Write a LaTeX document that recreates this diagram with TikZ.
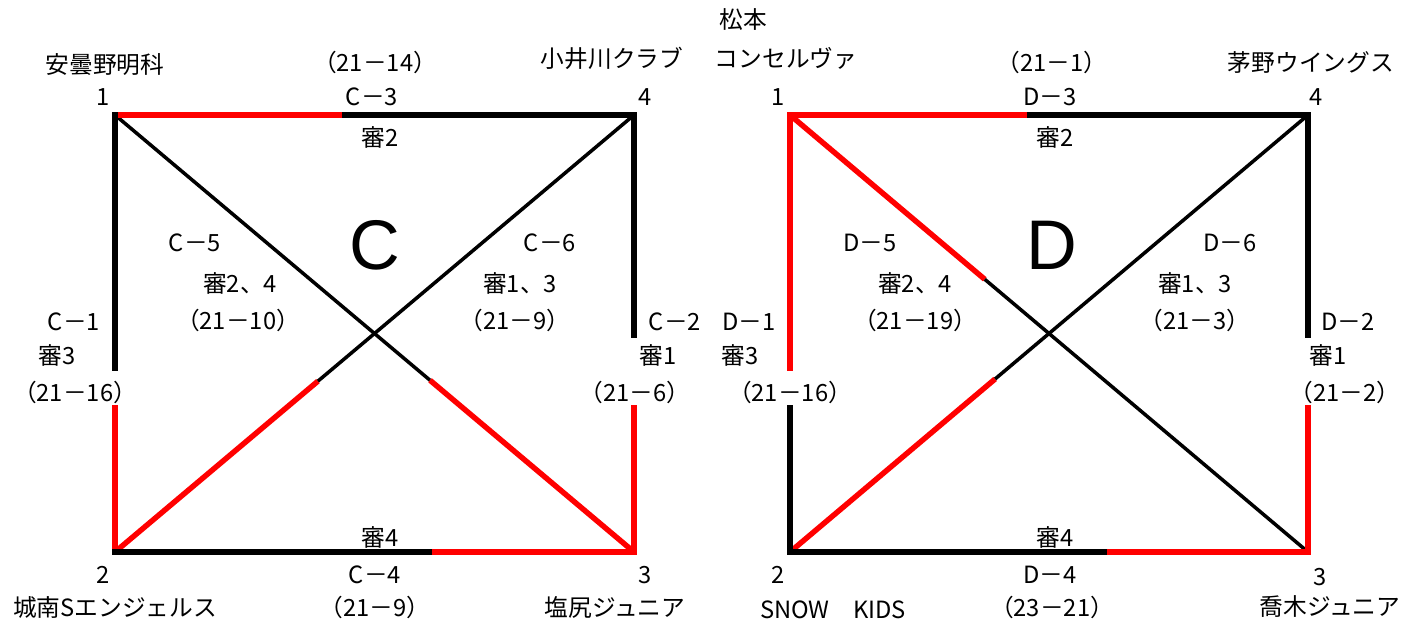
\documentclass[tikz,border=0pt]{standalone}
\usepackage{fontspec}
\setmainfont{Noto Sans CJK JP}
\newfontfamily\poolfont{Liberation Sans}
\usetikzlibrary{calc}
\definecolor{lostRed}{HTML}{FF0000}

\begin{document}
\begin{tikzpicture}[
  x=0.02cm,y=-0.02cm,
  font=\fontsize{13.5}{16}\selectfont,
  side/.style={line width=3.7pt,line cap=rect},
  cross/.style={line width=2pt},
  lost/.style={draw=lostRed},
  lostcross/.style={line width=3.1pt,draw=lostRed},
  tag/.style={inner sep=0pt,anchor=center},
  pool/.style={inner sep=0pt,anchor=center,font=\poolfont\fontsize{40}{44}\selectfont}
]
  \useasboundingbox (0,0) rectangle (1407,623);

  % block C
  \coordinate (c1) at (115,115);
  \coordinate (c4) at (634,115);
  \coordinate (c2) at (115,552);
  \coordinate (c3) at (634,552);
  \coordinate (c-top) at (345,115);
  \coordinate (c-bot) at (435,552);
  \coordinate (c-lu) at (115,368);
  \coordinate (c-ll) at (115,408);
  \coordinate (c-ru) at (634,335);
  \coordinate (c-rl) at (634,408);
  \coordinate (c-d13) at ($(c1)!0.607!(c3)$);
  \coordinate (c-d24) at ($(c2)!0.391!(c4)$);

  \draw[cross] (c1) -- (c-d13);
  \draw[lostcross] (c-d13) -- (c3);
  \draw[lostcross] (c2) -- (c-d24);
  \draw[cross] (c-d24) -- (c4);
  \draw[side,lost] (c1) -- (c-top);
  \draw[side] (c-top) -- (c4);
  \draw[side] (c1) -- (c-lu);
  \draw[side,lost] (c-ll) -- (c2);
  \draw[side] (c4) -- (c-ru);
  \draw[side,lost] (c-rl) -- (c3);
  \draw[side] (c2) -- (c-bot);
  \draw[side,lost] (c-bot) -- (c3);

  \node[pool] (c-pool) at (375,245) {C};
  \foreach \pos/\txt [count=\i] in {
    (105,65)/安曇野明科, (103,97)/1, (375,62)/（21－14）, (372,97)/C－3,
    (380,137)/審2, (612,58)/小井川クラブ, (645,97)/4,
    (195,243)/C－5, (240,283)/審2、4, (238,320)/（21－10）,
    (550,243)/C－6, (520,283)/審1、3, (515,320)/（21－9）,
    (74,322)/C－1, (57,355)/審3, (75,392)/（21－16）,
    (675,322)/C－2, (658,355)/審1, (635,392)/（21－6）,
    (380,537)/審4, (103,575)/2, (375,575)/C－4, (645,575)/3,
    (115,607)/城南Sエンジェルス, (375,607)/（21－9）, (615,607)/塩尻ジュニア
  } {
    \node[tag] (c-t\i) at \pos {\txt};
  }

  % block D
  \coordinate (d1) at (790,115);
  \coordinate (d4) at (1308,115);
  \coordinate (d2) at (790,552);
  \coordinate (d3) at (1308,552);
  \coordinate (d-top) at (1030,115);
  \coordinate (d-bot) at (1110,552);
  \coordinate (d-lu) at (790,368);
  \coordinate (d-ll) at (790,408);
  \coordinate (d-ru) at (1308,335);
  \coordinate (d-rl) at (1308,408);
  \coordinate (d-d13) at ($(d1)!0.376!(d3)$);
  \coordinate (d-d24) at ($(d2)!0.396!(d4)$);

  \draw[lostcross] (d1) -- (d-d13);
  \draw[cross] (d-d13) -- (d3);
  \draw[lostcross] (d2) -- (d-d24);
  \draw[cross] (d-d24) -- (d4);
  \draw[side,lost] (d1) -- (d-top);
  \draw[side] (d-top) -- (d4);
  \draw[side,lost] (d1) -- (d-lu);
  \draw[side] (d-ll) -- (d2);
  \draw[side] (d4) -- (d-ru);
  \draw[side,lost] (d-rl) -- (d3);
  \draw[side] (d2) -- (d-bot);
  \draw[side,lost] (d-bot) -- (d3);

  \node[pool] (d-pool) at (1052,245) {D};
  \foreach \pos/\txt [count=\i] in {
    (743,20)/松本, (786,58)/コンセルヴァ, (778,97)/1, (1052,62)/（21－1）,
    (1050,97)/D－3, (1055,137)/審2, (1311,62)/茅野ウイングス, (1316,97)/4,
    (870,243)/D－5, (915,283)/審2、4, (915,320)/（21－19）,
    (1230,243)/D－6, (1195,283)/審1、3, (1195,320)/（21－3）,
    (749,322)/D－1, (740,355)/審3, (790,392)/（21－16）,
    (1348,322)/D－2, (1328,355)/審1, (1345,392)/（21－2）,
    (1055,537)/審4, (778,575)/2, (1050,575)/D－4, (1320,577)/3,
    (833,610)/SNOW　KIDS, (1052,607)/（23－21）, (1330,607)/喬木ジュニア
  } {
    \node[tag] (d-t\i) at \pos {\txt};
  }
\end{tikzpicture}
\end{document}
